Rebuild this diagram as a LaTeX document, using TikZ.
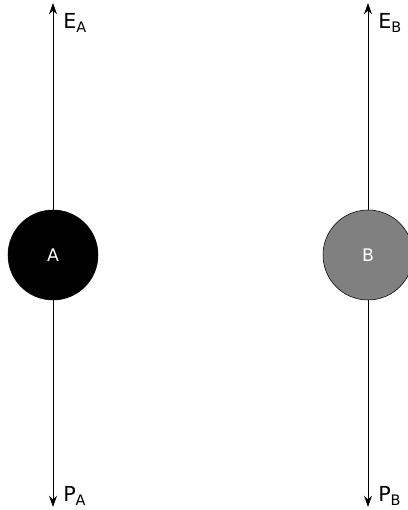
\documentclass[tikz,border=0pt]{standalone}
\usepackage{fontspec}
\setmainfont{DejaVu Sans}
\usetikzlibrary{arrows.meta}

\tikzset{
  particle/.style={circle, draw=black, minimum size=67.5pt, inner sep=0pt, text=white, font=\fontsize{13}{15}\selectfont},
  flow/.style={-{Stealth[length=8.5, width=6]}, line width=0.75},
  tag/.style={anchor=north west, inner sep=0pt, font=\fontsize{15.5}{17}\selectfont}
}

\begin{document}
\begin{tikzpicture}[x=0.75pt, y=-0.75pt]

  % Frame
  \useasboundingbox (0, 0) rectangle (407, 510);

  % Particles
  \node[particle, fill=black]      (A) at ( 53, 255) {A};
  \node[particle, fill=black!50]   (B) at (368, 255) {B};

  % Arrow ends
  \coordinate (eA) at ( 53,   3);
  \coordinate (pA) at ( 53, 507);
  \coordinate (eB) at (368,   3);
  \coordinate (pB) at (368, 507);

  % Arrows
  \draw[flow] (A.north) -- (eA);
  \draw[flow] (A.south) -- (pA);
  \draw[flow] (B.north) -- (eB);
  \draw[flow] (B.south) -- (pB);

  % Labels
  \node[tag] (labEA) at ( 63,  13) {E\textsubscript{A}};
  \node[tag] (labPA) at ( 63, 486) {P\textsubscript{A}};
  \node[tag] (labEB) at (378,  13) {E\textsubscript{B}};
  \node[tag] (labPB) at (378, 486) {P\textsubscript{B}};

\end{tikzpicture}
\end{document}
